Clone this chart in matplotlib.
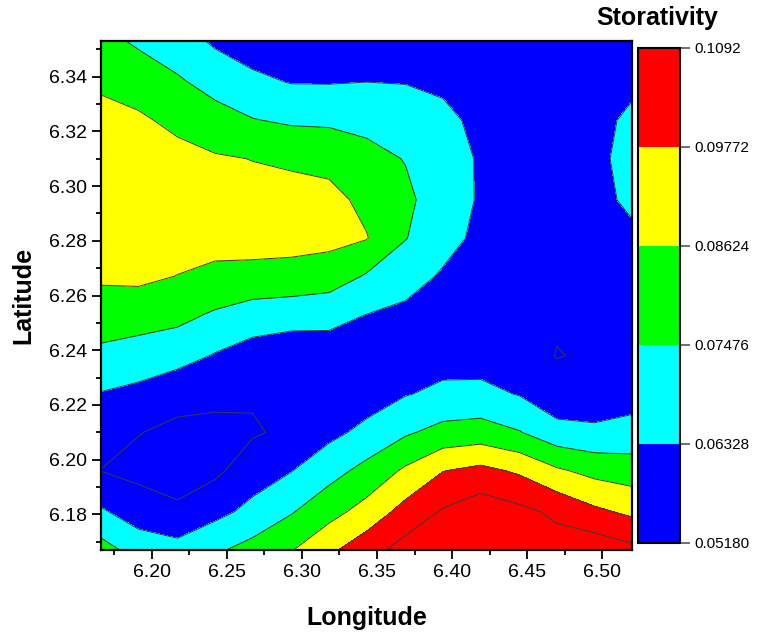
import matplotlib as mpl
import matplotlib.pyplot as plt
from matplotlib.colors import ListedColormap, BoundaryNorm
from matplotlib.ticker import MultipleLocator, FormatStrFormatter

plt.rcParams['font.family'] = ['Liberation Sans', 'DejaVu Sans']

# grid nodes
lon = [6.166, 6.191, 6.217, 6.242, 6.267, 6.293, 6.318, 6.343,
       6.369, 6.394, 6.419, 6.445, 6.470, 6.495, 6.520]
lat = [6.353, 6.338, 6.324, 6.310, 6.295, 6.281, 6.267,
       6.253, 6.238, 6.224, 6.210, 6.196, 6.181, 6.167]

# storativity at each node, one row per latitude (north -> south)
storativity = [
    [0.07820, 0.07304, 0.06845, 0.06156, 0.05811, 0.05524, 0.05524, 0.05524, 0.05582, 0.05639, 0.05639, 0.05582, 0.05524, 0.05582, 0.05754],
    [0.08452, 0.08130, 0.07625, 0.07074, 0.06558, 0.06282, 0.06271, 0.06328, 0.06294, 0.06156, 0.05869, 0.05697, 0.05582, 0.05754, 0.06098],
    [0.08968, 0.08796, 0.08360, 0.07924, 0.07533, 0.07315, 0.07292, 0.07178, 0.06868, 0.06558, 0.06098, 0.05811, 0.05639, 0.05984, 0.06558],
    [0.09255, 0.09141, 0.08968, 0.08739, 0.08601, 0.08475, 0.08280, 0.07820, 0.07430, 0.06845, 0.06213, 0.05869, 0.05639, 0.06041, 0.06730],
    [0.09370, 0.09313, 0.09198, 0.09026, 0.08968, 0.08968, 0.08968, 0.08337, 0.07706, 0.06902, 0.06213, 0.05869, 0.05582, 0.05984, 0.06558],
    [0.09198, 0.09141, 0.09083, 0.08968, 0.08968, 0.08911, 0.08911, 0.08681, 0.07522, 0.06672, 0.06098, 0.05754, 0.05524, 0.05754, 0.06098],
    [0.08796, 0.08854, 0.08601, 0.08394, 0.08360, 0.08337, 0.08107, 0.07361, 0.06730, 0.06213, 0.05869, 0.05582, 0.05410, 0.05524, 0.05754],
    [0.08050, 0.07981, 0.07786, 0.07338, 0.06891, 0.06707, 0.06615, 0.06317, 0.06098, 0.05984, 0.05697, 0.05524, 0.05295, 0.05352, 0.05524],
    [0.07223, 0.06982, 0.06764, 0.06248, 0.05869, 0.05754, 0.05869, 0.05754, 0.05869, 0.05926, 0.05869, 0.05639, 0.05146, 0.05295, 0.05524],
    [0.06271, 0.06030, 0.05524, 0.05490, 0.05295, 0.05352, 0.05524, 0.05811, 0.06271, 0.06558, 0.06615, 0.06271, 0.05582, 0.05639, 0.05869],
    [0.05754, 0.05214, 0.04950, 0.04836, 0.05065, 0.05410, 0.06041, 0.06615, 0.07327, 0.07843, 0.07981, 0.07533, 0.06730, 0.06558, 0.06730],
    [0.05157, 0.04893, 0.04893, 0.04950, 0.05800, 0.06294, 0.07051, 0.07820, 0.08808, 0.09738, 0.10071, 0.09600, 0.08785, 0.08280, 0.08050],
    [0.06477, 0.05754, 0.05295, 0.06007, 0.06627, 0.07396, 0.08234, 0.09049, 0.10174, 0.11035, 0.11609, 0.11207, 0.10690, 0.10002, 0.09542],
    [0.07935, 0.07017, 0.06787, 0.07304, 0.07878, 0.08567, 0.09542, 0.10461, 0.11379, 0.11609, 0.11724, 0.11609, 0.11437, 0.11666, 0.11207],
]

levels = [0.05180, 0.06328, 0.07476, 0.08624, 0.09772, 0.1092]
level_labels = ['0.05180', '0.06328', '0.07476', '0.08624', '0.09772', '0.1092']
band_colors = ['#0000ff', '#00ffff', '#00ff00', '#ffff00', '#ff0000']

fig = plt.figure(figsize=(7.57, 6.33), dpi=100)
ax = fig.add_axes([0.1334, 0.1311, 0.7015, 0.8041])

cmap = ListedColormap(band_colors)
cmap.set_under(band_colors[0])
cmap.set_over(band_colors[-1])
ax.contourf(lon, lat, storativity, levels=levels, cmap=cmap, extend='both')
ax.contour(lon, lat, storativity, levels=levels, colors='#3a3a3a', linewidths=0.7)

ax.set_xlim(6.166, 6.52)
ax.set_ylim(6.167, 6.353)
ax.xaxis.set_major_locator(MultipleLocator(0.05))
ax.xaxis.set_minor_locator(MultipleLocator(0.025))
ax.yaxis.set_major_locator(MultipleLocator(0.02))
ax.yaxis.set_minor_locator(MultipleLocator(0.01))
ax.xaxis.set_major_formatter(FormatStrFormatter('%.2f'))
ax.yaxis.set_major_formatter(FormatStrFormatter('%.2f'))
ax.tick_params(which='major', direction='out', length=6.5, width=1.3, labelsize=14)
ax.tick_params(which='minor', direction='out', length=3.5, width=1.3)
for sp in ax.spines.values():
    sp.set_linewidth(1.6)

ax.set_xlabel('Longitude', fontsize=18, fontweight='bold', labelpad=18)
ax.set_ylabel('Latitude', fontsize=18, fontweight='bold', labelpad=10)

# colorbar
cax = fig.add_axes([0.8428, 0.1422, 0.0555, 0.782])
cb = mpl.colorbar.ColorbarBase(cax, cmap=ListedColormap(band_colors),
                               norm=BoundaryNorm(levels, len(band_colors)),
                               ticks=levels)
cb.set_ticklabels(level_labels)
cb.ax.tick_params(direction='out', length=7.5, width=1.2, color='#555555', labelsize=11, pad=3)
cb.outline.set_linewidth(1.5)
fig.text(0.868, 0.9716, 'Storativity', fontsize=18, fontweight='bold', ha='center', va='center')

fig.savefig('out.png', dpi=100)
plt.close(fig)
